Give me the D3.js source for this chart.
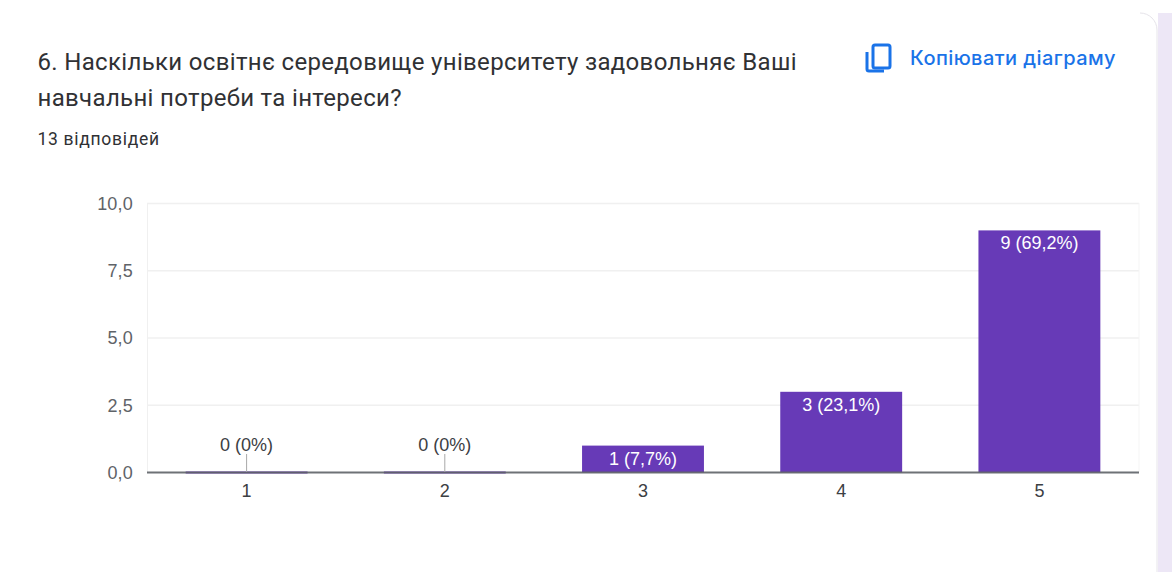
<!DOCTYPE html>
<html><head><meta charset="utf-8">
<script src="https://cdn.jsdelivr.net/npm/d3@7"></script>
<style>html,body{margin:0;padding:0;background:#fff;overflow:hidden}svg{display:block}</style>
</head><body><svg id="c" width="1172" height="572"></svg>
<script>
const categories=["1","2","3","4","5"];
const counts=[0,0,1,3,9];
const labels=["0 (0%)","0 (0%)","1 (7,7%)","3 (23,1%)","9 (69,2%)"];
const yTicks=[0,2.5,5,7.5,10];
const titleLines=["6. Наскільки освітнє середовище університету задовольняє Ваші","навчальні потреби та інтереси?"];
const subtitle="13 відповідей";
const copyLabel="Копіювати діаграму";

const svg=d3.select("#c");
svg.append("rect").attr("x",1158).attr("y",0).attr("width",14).attr("height",572).attr("fill","#ede7f6");
svg.append("path").attr("d","M1140,13 a17,17 0 0 1 17,17 V572").attr("fill","none").attr("stroke","#e6e4ea").attr("stroke-width",1);
svg.append("rect").attr("x",1145).attr("y",0).attr("width",27).attr("height",13).attr("fill","#fff");

const x=d3.scaleBand().domain(categories).range([147.5,1138.5]).paddingInner(0.385).paddingOuter(0.1925);
const y=d3.scaleLinear().domain([0,10]).range([472.5,203.5]);
const fmt=d=>d3.format(".1f")(d).replace(".",",");
const ff="Arial,'Liberation Sans',sans-serif";

const g=svg.append("g");
g.selectAll(".grid").data(yTicks.filter(d=>d>0)).join("line")
 .attr("x1",147).attr("x2",1139).attr("y1",d=>y(d)).attr("y2",d=>y(d)).attr("stroke","#f0f0f0").attr("stroke-width",1.5);
g.append("line").attr("x1",147.5).attr("x2",147.5).attr("y1",203).attr("y2",472).attr("stroke","#f0f0f0");
g.append("line").attr("x1",1139).attr("x2",1139).attr("y1",203).attr("y2",472).attr("stroke","#f5f5f5");

g.selectAll(".bar").data(counts).join("rect")
 .attr("x",(d,i)=>x(categories[i])).attr("width",x.bandwidth())
 .attr("y",d=>y(d)-(d===0?1:0)).attr("height",d=>y(0)-y(d)+(d===0?2:0)).attr("fill","#673ab7");

const ay=d3.axisLeft(y).tickValues(yTicks).tickFormat(fmt).tickSize(0).tickPadding(14);
const gy=svg.append("g").attr("transform","translate(147,0)").call(ay);
gy.select(".domain").remove();
gy.selectAll("text").attr("font-family",ff).attr("font-size",18).attr("letter-spacing",0.2).attr("fill","#5f6368");

const ax=d3.axisBottom(x).tickSize(0).tickPadding(12);
const gx=svg.append("g").attr("transform","translate(0,472)").call(ax);
gx.select(".domain").remove();
gx.selectAll("text").attr("font-family",ff).attr("font-size",18).attr("fill","#3c4043");
svg.append("line").attr("x1",147).attr("x2",1139).attr("y1",472.5).attr("y2",472.5).attr("stroke","#5f6368").attr("stroke-width",2).attr("opacity",0.9);

counts.forEach((d,i)=>{
  const cx=x(categories[i])+x.bandwidth()/2;
  if(d===0){
    svg.append("line").attr("x1",cx).attr("x2",cx).attr("y1",454).attr("y2",472).attr("stroke","#a8a8a8").attr("stroke-width",1);
  }
  svg.append("text").attr("x",cx).attr("y",d===0?451:y(d)+19).attr("text-anchor","middle")
   .attr("font-family",ff).attr("font-size",18).attr("fill",d===0?"#3c4043":"#fff").text(labels[i]);
});

const tf="Roboto,sans-serif";
titleLines.forEach((t,i)=>svg.append("text").attr("x",37.5).attr("y",70+i*36).attr("font-family",tf)
  .attr("font-size",24).attr("letter-spacing",0.33).attr("fill","#303134").text(t));
svg.append("text").attr("x",37.5).attr("y",145).attr("font-family",tf).attr("font-size",17.5).attr("letter-spacing",0.7).attr("fill","#303134").text(subtitle);

const ic=svg.append("g").attr("fill","none").attr("stroke","#1a73e8").attr("stroke-width",3);
ic.append("rect").attr("x",873).attr("y",45).attr("width",17).attr("height",23).attr("rx",2);
ic.append("path").attr("d","M867,52 V69 a2,2 0 0 0 2,2 H884");
svg.append("text").attr("x",910).attr("y",65).attr("font-family","Inter,sans-serif").attr("font-weight",500)
  .attr("font-size",20).attr("letter-spacing",0.42).attr("fill","#1a73e8").text(copyLabel);
</script></body></html>
